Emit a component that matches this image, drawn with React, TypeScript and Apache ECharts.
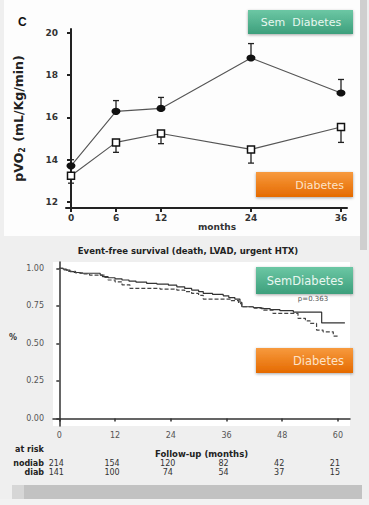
import React, { useEffect, useRef } from "react";
import * as echarts from "echarts";

// ---- Panel C: pVO2 over time ----
const months = [0, 6, 12, 24, 36];
const semDiabMean = [13.71, 16.29, 16.43, 18.82, 17.16];
const semDiabUpper = [14.0, 16.8, 16.95, 19.5, 17.8];
const diabMean = [13.24, 14.82, 15.24, 14.49, 15.55];
const diabLower = [12.89, 14.35, 14.76, 13.84, 14.82];
const pvoTicks = [12, 14, 16, 18, 20];

// ---- Kaplan-Meier: event-free survival ----
const kmTicks = [0, 12, 24, 36, 48, 60];
const survTicks = [0, 0.25, 0.5, 0.75, 1];
const nodiabCurve: [number, number][] = [
  [0, 1.0], [0.8, 0.995], [1.5, 0.988], [2.3, 0.978], [3.2, 0.972], [4.5, 0.967],
  [8.8, 0.955], [9.3, 0.944], [10.5, 0.937], [12, 0.93], [13.5, 0.922], [15, 0.915],
  [16.5, 0.908], [18.8, 0.9], [21, 0.895], [23.5, 0.888], [25.3, 0.877], [27, 0.866],
  [28.5, 0.855], [30, 0.845], [31, 0.833], [33, 0.826], [35.3, 0.817], [36.5, 0.805],
  [37.8, 0.795], [38.9, 0.774], [39.3, 0.744], [41.8, 0.738], [43.5, 0.732], [45.4, 0.725],
  [47.5, 0.718], [50.4, 0.708], [56.5, 0.636], [61.5, 0.636],
];
const diabCurve: [number, number][] = [
  [0, 1.0], [1, 0.99], [2, 0.98], [3.5, 0.97], [5, 0.962], [6.5, 0.955], [9.8, 0.94],
  [10.5, 0.922], [12, 0.91], [13.5, 0.89], [15.2, 0.867], [21.7, 0.862], [25.3, 0.855],
  [27, 0.845], [28.5, 0.833], [30, 0.82], [31, 0.795], [37, 0.785], [38.6, 0.765],
  [39.3, 0.744], [42, 0.735], [44, 0.722], [46, 0.7], [51.4, 0.667], [53, 0.65],
  [54, 0.633], [55.4, 0.589], [56.8, 0.577], [59, 0.549], [60.1, 0.549],
];
const riskTimes = [0, 12, 24, 36, 48, 60];
const riskNodiab = [214, 154, 120, 82, 42, 21];
const riskDiab = [141, 100, 74, 54, 37, 15];

const FONT = "DejaVu Sans";

export default function App() {
  const ref = useRef<HTMLDivElement>(null);
  useEffect(() => {
    if (!ref.current) return;
    const chart = echarts.init(ref.current, undefined, { renderer: "svg" });

    const errBar = (color: string) => (params: any, api: any) => {
      const x = api.value(0);
      const y = api.value(1);
      const e = api.value(2);
      const p0 = api.coord([x, y]);
      const p1 = api.coord([x, e]);
      return {
        type: "group",
        children: [
          { type: "line", shape: { x1: p0[0], y1: p0[1], x2: p1[0], y2: p1[1] }, style: { stroke: color, lineWidth: 1.3 } },
          { type: "line", shape: { x1: p1[0] - 3, y1: p1[1], x2: p1[0] + 3, y2: p1[1] }, style: { stroke: color, lineWidth: 1.3 } },
        ],
      };
    };

    const greenGrad = new echarts.graphic.LinearGradient(0, 0, 0, 1, [
      { offset: 0, color: "#6cc7a4" },
      { offset: 1, color: "#3d9f7c" },
    ]);
    const orangeGrad = new echarts.graphic.LinearGradient(0, 0, 0, 1, [
      { offset: 0, color: "#f79a3e" },
      { offset: 1, color: "#e56a00" },
    ]);

    const axisLabelTop = { fontFamily: FONT, fontWeight: "bold" as const, fontSize: 9, color: "#333" };
    const axisLabelBottom = { fontFamily: FONT, fontSize: 8, color: "#555" };

    chart.setOption({
      animation: false,
      backgroundColor: "#efefef",
      graphic: [
        { type: "rect", z: -10, shape: { x: 4, y: 0, width: 356, height: 236 }, style: { fill: "#fdfdfd" } },
        { type: "rect", z: -10, shape: { x: 360, y: 0, width: 7, height: 250 }, style: { fill: "#cfcfcf" } },
        { type: "rect", z: -10, shape: { x: 12, y: 485, width: 350, height: 14 }, style: { fill: "#c2c2c2" } },
        { type: "rect", z: -10, shape: { x: 12, y: 485, width: 12, height: 14 }, style: { fill: "#d6d6d6" } },
        { type: "rect", z: -10, shape: { x: 0, y: 499, width: 369, height: 6 }, style: { fill: "#f2f2f2" } },
        { type: "text", x: 18, y: 16, style: { text: "C", fontFamily: "Liberation Sans", fontWeight: "bold", fontSize: 12, fill: "#111" } },
        { type: "text", x: 217, y: 222, style: { text: "months", fontFamily: FONT, fontWeight: "bold", fontSize: 9, fill: "#333", align: "center" } },
        // top legend boxes
        { type: "rect", shape: { x: 248, y: 10, width: 105, height: 24 }, style: { fill: greenGrad, shadowBlur: 3, shadowColor: "rgba(0,0,0,0.35)", shadowOffsetY: 1 } },
        { type: "text", x: 301, y: 22, style: { text: "Sem  Diabetes", fontFamily: FONT, fontSize: 11, fill: "#e8f7f0", align: "center", verticalAlign: "middle" } },
        { type: "rect", shape: { x: 256, y: 172, width: 97, height: 25 }, style: { fill: orangeGrad, shadowBlur: 3, shadowColor: "rgba(0,0,0,0.35)", shadowOffsetY: 1 } },
        { type: "text", x: 344, y: 185, style: { text: "Diabetes", fontFamily: FONT, fontSize: 11, fill: "#fde3c8", align: "right", verticalAlign: "middle" } },
        // bottom panel
        { type: "text", x: 188, y: 251, style: { text: "Event-free survival (death, LVAD, urgent HTX)", fontFamily: FONT, fontWeight: "bold", fontSize: 8.5, fill: "#222", align: "center", verticalAlign: "middle" } },
        { type: "text", x: 13, y: 337, style: { text: "%", fontFamily: FONT, fontWeight: "bold", fontSize: 8, fill: "#333", align: "center", verticalAlign: "middle" } },
        { type: "text", x: 15, y: 449, style: { text: "at risk", fontFamily: FONT, fontWeight: "bold", fontSize: 8, fill: "#222", verticalAlign: "middle" } },
        { type: "text", x: 44, y: 463, style: { text: "nodiab", fontFamily: FONT, fontWeight: "bold", fontSize: 8, fill: "#222", align: "right", verticalAlign: "middle" } },
        { type: "text", x: 44, y: 472, style: { text: "diab", fontFamily: FONT, fontWeight: "bold", fontSize: 8, fill: "#222", align: "right", verticalAlign: "middle" } },
        { type: "rect", z: 10, shape: { x: 256, y: 267, width: 97, height: 27 }, style: { fill: greenGrad, shadowBlur: 3, shadowColor: "rgba(0,0,0,0.35)", shadowOffsetY: 1 } },
        { type: "text", z: 11, x: 305, y: 281, style: { text: "SemDiabetes", fontFamily: FONT, fontSize: 11.5, fill: "#e8f7f0", align: "center", verticalAlign: "middle" } },
        { type: "text", z: 11, x: 313, y: 299, style: { text: "p=0.363", fontFamily: FONT, fontSize: 7, fill: "#555", align: "center", verticalAlign: "middle" } },
        { type: "rect", z: 10, shape: { x: 256, y: 348, width: 97, height: 25 }, style: { fill: orangeGrad, shadowBlur: 3, shadowColor: "rgba(0,0,0,0.35)", shadowOffsetY: 1 } },
        { type: "text", z: 11, x: 344, y: 361, style: { text: "Diabetes", fontFamily: FONT, fontSize: 11.5, fill: "#fde3c8", align: "right", verticalAlign: "middle" } },
      ],
      grid: [
        { left: 66, right: 22, top: 29, bottom: 297 },
        { left: 53, right: 19, top: 262, bottom: 79, show: true, backgroundColor: "#ffffff", borderWidth: 0 },
      ],
      xAxis: [
        {
          type: "value", gridIndex: 0, min: -0.667, max: 36.8,
          axisLine: { show: true, lineStyle: { color: "#222", width: 2 } },
          axisTick: { show: true, customValues: months, length: 4, lineStyle: { color: "#222", width: 2 } },
          axisLabel: { ...axisLabelTop, customValues: months, margin: 5 },
          splitLine: { show: false },
        },
        {
          type: "value", gridIndex: 1, min: -1.36, max: 62.6,
          name: "Follow-up (months)", nameLocation: "middle", nameGap: 23,
          nameTextStyle: { fontFamily: FONT, fontWeight: "bold", fontSize: 8.5, color: "#222" },
          axisLine: { show: true, lineStyle: { color: "#333", width: 1.5 } },
          axisTick: { show: true, customValues: kmTicks, length: 3, lineStyle: { color: "#333", width: 1.5 } },
          axisLabel: { ...axisLabelBottom, customValues: kmTicks, margin: 5 },
          splitLine: { show: false },
        },
      ],
      yAxis: [
        {
          type: "value", gridIndex: 0, min: 11.714, max: 20.19,
          name: "pVO{s|2} (mL/Kg/min)", nameLocation: "middle", nameGap: 40, nameRotate: 90,
          nameTextStyle: {
            fontFamily: FONT, fontWeight: "bold", fontSize: 12.5, color: "#222",
            rich: { s: { fontFamily: FONT, fontWeight: "bold", fontSize: 8, color: "#222", padding: [7, 1, 0, 0] } },
          },
          axisLine: { show: true, lineStyle: { color: "#222", width: 2 } },
          axisTick: { show: true, customValues: pvoTicks, length: 4, lineStyle: { color: "#222", width: 2 } },
          axisLabel: { ...axisLabelTop, customValues: pvoTicks, margin: 8 },
          splitLine: { show: false },
        },
        {
          type: "value", gridIndex: 1, min: -0.05, max: 1.042,
          axisLine: { show: true, lineStyle: { color: "#333", width: 1.5 } },
          axisTick: { show: true, customValues: survTicks, length: 3, lineStyle: { color: "#333", width: 1.5 } },
          axisLabel: { ...axisLabelBottom, customValues: survTicks, margin: 9, formatter: (v: number) => v.toFixed(2) },
          splitLine: { show: false },
        },
      ],
      series: [
        {
          type: "custom", xAxisIndex: 0, yAxisIndex: 0, z: 1,
          renderItem: errBar("#222"),
          data: months.map((m, i) => [m, semDiabMean[i], semDiabUpper[i]]),
          encode: { x: 0, y: 1 },
        },
        {
          type: "custom", xAxisIndex: 0, yAxisIndex: 0, z: 1,
          renderItem: errBar("#222"),
          data: months.map((m, i) => [m, diabMean[i], diabLower[i]]),
          encode: { x: 0, y: 1 },
        },
        {
          type: "line", xAxisIndex: 0, yAxisIndex: 0, z: 3,
          data: months.map((m, i) => [m, semDiabMean[i]]),
          lineStyle: { color: "#555", width: 1.1 },
          symbol: "circle", symbolSize: [9, 7],
          itemStyle: { color: "#111", borderWidth: 0 },
        },
        {
          type: "line", xAxisIndex: 0, yAxisIndex: 0, z: 3,
          data: months.map((m, i) => [m, diabMean[i]]),
          lineStyle: { color: "#555", width: 1.1 },
          symbol: "rect", symbolSize: 7,
          itemStyle: { color: "#ffffff", borderColor: "#111", borderWidth: 1.5 },
        },
        {
          type: "line", xAxisIndex: 1, yAxisIndex: 1, step: "end",
          data: nodiabCurve, symbol: "none",
          lineStyle: { color: "#333", width: 1.2 },
        },
        {
          type: "line", xAxisIndex: 1, yAxisIndex: 1, step: "end",
          data: diabCurve, symbol: "none",
          lineStyle: { color: "#444", width: 1.2, type: [4, 2] },
        },
        {
          type: "custom", xAxisIndex: 1, yAxisIndex: 1,
          data: riskTimes.map((t, i) => [t, riskNodiab[i], riskDiab[i]]),
          encode: { x: 0 },
          renderItem: (params: any, api: any) => {
            const p = api.coord([api.value(0), 0]);
            const st = { fontFamily: FONT, fontSize: 8, fill: "#333", align: "center", verticalAlign: "middle" };
            return {
              type: "group",
              children: [
                { type: "text", x: p[0] - 3, y: 463, style: { ...st, text: String(api.value(1)) } },
                { type: "text", x: p[0] - 3, y: 472, style: { ...st, text: String(api.value(2)) } },
              ],
            };
          },
        },
      ],
    });
    return () => chart.dispose();
  }, []);

  return <div ref={ref} style={{ position: "fixed", left: 0, top: 0, width: 369, height: 505 }} />;
}
